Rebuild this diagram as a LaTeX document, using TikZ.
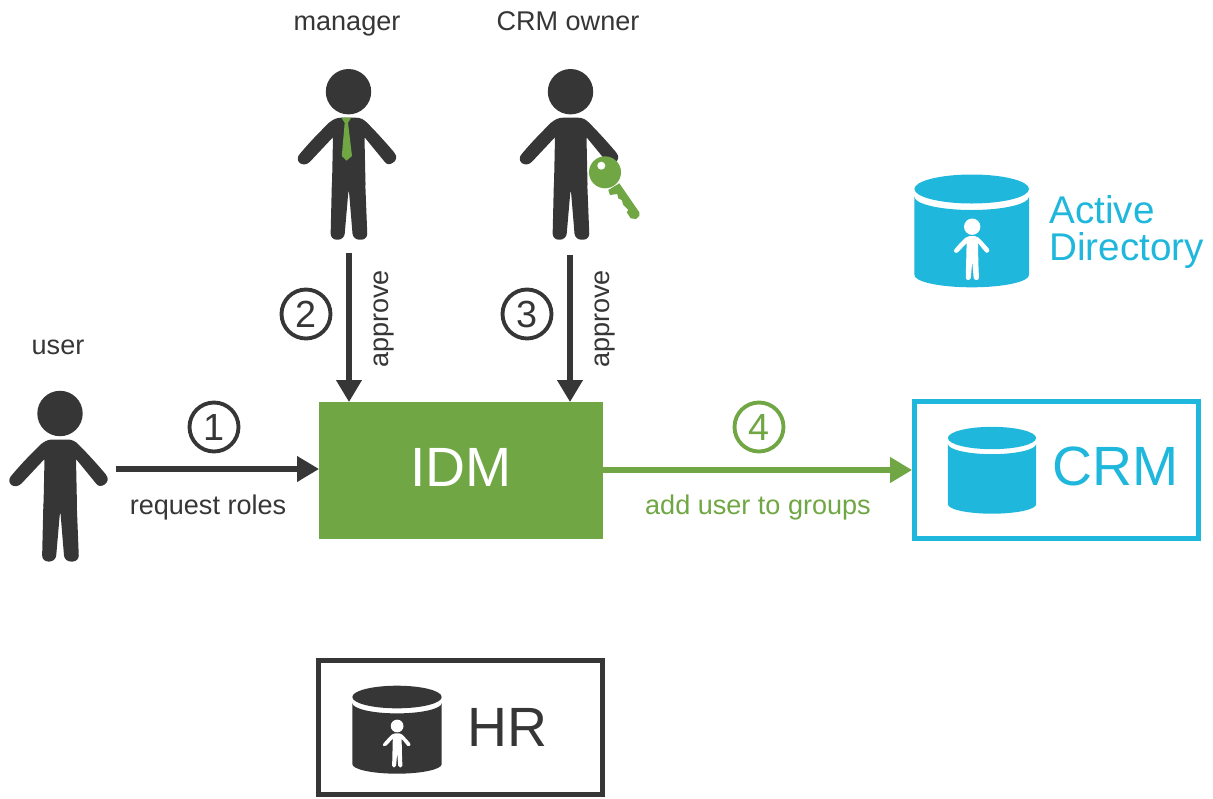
\documentclass[tikz,border=0pt]{standalone}
\usepackage{fontspec}
\setmainfont{Liberation Sans}
\usetikzlibrary{arrows.meta}
\definecolor{idmgreen}{HTML}{70A643}
\definecolor{dbblue}{HTML}{1FB7DC}
\definecolor{darkgray}{HTML}{363636}
\tikzset{
  pics/person/.style={code={
      \fill[pic actions] (0.5,0) circle (22.7) ;
      \fill[pic actions] (-7,26)--(8,26) .. controls (13,26) and (16,28) .. (19,31)
        .. controls (28,40) and (38,51) .. (46,60.5) .. controls (50,65) and (48,69) .. (45,71)
        .. controls (42,73) and (39,73) .. (37,70.5)--(16.5,45.5)--(17.5,93)--(-16,93)--(-15,45.5)
        --(-38,70) .. controls (-41,73) and (-45,73.5) .. (-48,71.5) .. controls (-51,69) and (-51,65) .. (-48,62)
        .. controls (-38,50) and (-28,40) .. (-19,31) .. controls (-15,28) and (-12,26) .. (-7,26)--cycle ;
      \fill[pic actions,rounded corners=#1] (-16,85)--(17,85)--(19.5,148)--(5,148)--(0.7,96)
        --(-3.8,148)--(-17.5,148)--cycle ;
  }},
  pics/dbcan/.style={code={
      \fill[pic actions] (0,0) ellipse [x radius=57.3,y radius=14.5] ;
      \fill[pic actions] (-57.3,7.7) arc [start angle=180,end angle=0,x radius=57.3,y radius=13.3] %
      --(57.3,86) arc [start angle=0,end angle=180,x radius=57.3,y radius=12.3] --cycle ;
  }}
}
\begin{document}
\begin{tikzpicture}[x=0.02cm,y=-0.02cm,
    small/.style={inner sep=0pt,anchor=base,text=darkgray,font=\fontsize{15.4}{18}\selectfont},
    big/.style={inner sep=0pt,font=\fontsize{31.5}{36}\selectfont},
    num/.style={draw,circle,line width=2.2pt,minimum size=0.98cm,inner sep=0pt,font=\fontsize{21.5}{24}\selectfont},
    flow/.style={line width=2.9pt,-{Triangle[length=12.5pt,width=14pt]}},
    sysbox/.style={draw,line width=2.8pt,inner sep=0pt}]
      \useasboundingbox (0,0) rectangle (1213,798) ;
      % people
      \pic[fill=darkgray] at (59.5,413.5) {person=3.5pt} ;
      \pic[fill=darkgray] at (348,91.7) {person=3.5pt} ;
      \pic[fill=darkgray] at (570,91.7) {person=3.5pt} ;
      \fill[idmgreen] (341.3,117.7)--(351.3,117.7)--(348,122.7)--(352,156)--(346.5,160.7)--(341.8,156)--(344.7,122.7)--cycle ;
      \fill[idmgreen] (605,172.3) circle (16) ;
      \fill[idmgreen] (619.3,183.3)--(639.3,212.3)--(639.3,215.7)--(636,219)--(630.7,218.3)--(626.7,212.3)--(628.3,210)
        --(623.3,205)--(621.7,200)--(618.3,198.3)--(617.3,194)--(610,195)--(608.3,190)--cycle ;
      \fill[white] (601.3,165.7) circle (4) ;
      \node[small] (lbluser) at (58,354) {user} ;
      \node[small] (lblmanager) at (347,30) {manager} ;
      \node[small] (lblowner) at (568,30) {CRM owner} ;
      % boxes
      \node[fill=idmgreen,text=white,big,text depth=4pt,minimum width=5.68cm,minimum height=2.74cm,outer sep=0pt] %
      (idm) at (461,470.5) {IDM} ;
      \node[sysbox,dbblue,minimum width=5.68cm,minimum height=2.74cm] (crm) at (1056.5,470) {} ;
      \node[sysbox,darkgray,minimum width=5.68cm,minimum height=2.69cm] (hr) at (460.5,727.5) {} ;
      \node[big,text=dbblue] (crmtext) at (1115.5,466) {CRM} ;
      \node[big,text=darkgray] (hrtext) at (507.5,727) {HR} ;
      % databases
      \pic[fill=dbblue] at (971.7,189) {dbcan} ;
      \pic[fill=white,scale=0.36] at (972,226.7) {person=1.3pt} ;
      \pic[fill=dbblue,scale=0.77] at (992,438) {dbcan} ;
      \pic[fill=darkgray,scale=0.78] at (397,697) {dbcan} ;
      \pic[fill=white,scale=0.28] at (397,726) {person=1pt} ;
      \node[anchor=west,inner sep=0pt,text=dbblue,align=left,font=\fontsize{22}{21}\selectfont] %
      (adtext) at (1049,232) {Active\\Directory} ;
      % connectors
      \coordinate (userout) at (116,469) ;
      \coordinate (managerout) at (349,253) ;
      \coordinate (ownerout) at (570,255) ;
      \draw[flow,darkgray] (userout)--(userout -| idm.west) ;
      \draw[flow,darkgray] (managerout)--(managerout |- idm.north) ;
      \draw[flow,darkgray] (ownerout)--(ownerout |- idm.north) ;
      \draw[flow,idmgreen] (idm.east |- crm.west)--(crm.west) ;
      % labels
      \node[num,darkgray] (one) at (214,427) {1} ;
      \node[num,darkgray] (two) at (306,314) {2} ;
      \node[num,darkgray] (three) at (527,314) {3} ;
      \node[num,idmgreen] (four) at (759,427) {4} ;
      \node[small] (lblrequest) at (208,514) {request roles} ;
      \node[small,text=idmgreen] (lbladd) at (758,514) {add user to groups} ;
      \node[small,rotate=90] (lblapprovea) at (388,319) {approve} ;
      \node[small,rotate=90] (lblapproveb) at (609,319) {approve} ;
    \end{tikzpicture}
\end{document}
